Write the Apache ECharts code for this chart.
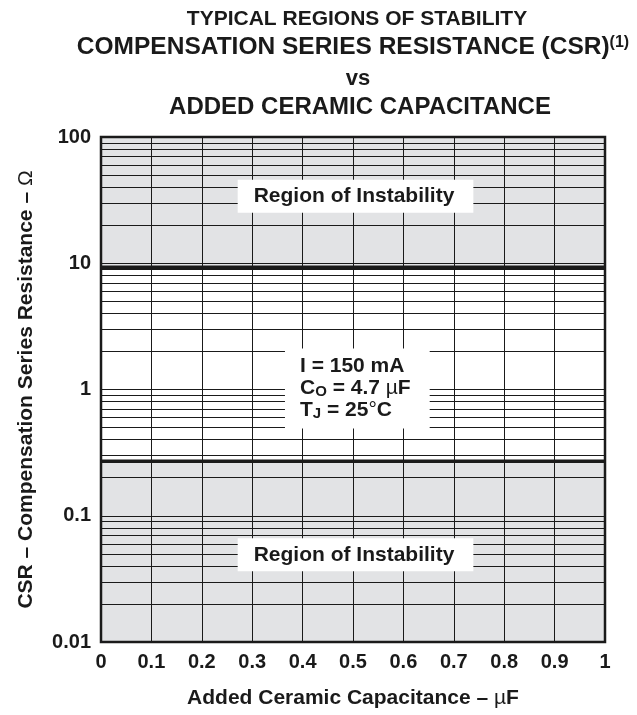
<!DOCTYPE html>
<html>
<head>
<meta charset="utf-8">
<title>CSR vs Added Ceramic Capacitance</title>
<script src="https://cdn.jsdelivr.net/npm/echarts@6/dist/echarts.min.js"></script>
<style>
  html, body { margin: 0; padding: 0; background: #fff; }
  #chart { width: 637px; height: 715px; }
</style>
</head>
<body>
<div id="chart"></div>
<script>
// values
var capRange = [0, 1];          // added ceramic capacitance, uF
var csrRange = [0.01, 100];     // CSR, ohm
var upperLimit = [9.3];         // above this: unstable
var lowerLimit = [0.27];        // below this: unstable
// log minor grid (2..9 in each decade)
var minorGrid = [0.02, 0.03, 0.04, 0.05, 0.06, 0.07, 0.08, 0.09,
                 0.2, 0.3, 0.4, 0.5, 0.6, 0.7, 0.8, 0.9,
                 2, 3, 4, 5, 6, 7, 8, 9,
                 20, 30, 40, 50, 60, 70, 80, 90];
var regionNames = ['Region of Instability', 'Region of Instability'];
var condSymbols = ['I', 'C', 'T'];
var condSubs = ['', 'O', 'J'];
var condValues = ['150 mA', '4.7 {g|\u00b5}F', '25{g|\u00b0}C'];

var FONT = "'Liberation Sans', Arial, Helvetica, sans-serif";
var INK = '#1a1a1a';
var GRAY = '#e2e3e5';

var chart = echarts.init(document.getElementById('chart'));

// rich text for the test conditions box
var condText = condSymbols.map(function (s, i) {
  var sub = condSubs[i] ? '{s|' + condSubs[i] + '}' : '';
  var val = condValues[i].replace(/\{g\|/, '}{g|').replace(/\}(?!$)([^{]*)$/, '}{t|$1');
  return '{t|' + s + '}' + sub + '{t| = ' + val + '}';
}).join('\n');

function limitLine(name, v) {
  return {
    name: name,
    type: 'line',
    z: 4,
    symbol: 'none',
    silent: true,
    lineStyle: { color: INK, width: 3.5 },
    data: [[capRange[0], v], [capRange[1], v]]
  };
}

var boxLabel = {
  show: true,
  position: 'inside',
  color: INK,
  opacity: 1,
  fontFamily: FONT,
  fontWeight: 'bold',
  fontSize: 21,
  backgroundColor: '#fff',
  padding: [6, 19, 6, 16]
};

var nameStyle = {
  fontFamily: FONT, fontWeight: 'bold', fontSize: 21, color: INK,
  rich: {
    b: { fontFamily: FONT, fontWeight: 'bold', fontSize: 21, color: INK },
    g: { fontFamily: FONT, fontWeight: 'normal', fontSize: 21, color: INK }
  }
};

var option = {
  animation: false,
  title: [
    {
      text: 'TYPICAL REGIONS OF STABILITY',
      left: 352, top: 4, textAlign: 'center',
      textStyle: { fontFamily: FONT, fontWeight: 'bold', fontSize: 21, color: INK }
    },
    {
      text: '{m|COMPENSATION SERIES RESISTANCE (CSR)}{p|(1)}',
      left: 348, top: 30, textAlign: 'center',
      textStyle: {
        rich: {
          m: { fontFamily: FONT, fontWeight: 'bold', fontSize: 24.5, color: INK },
          p: { fontFamily: FONT, fontWeight: 'bold', fontSize: 16, color: INK, verticalAlign: 'top', lineHeight: 24 }
        }
      }
    },
    {
      text: 'vs',
      left: 353, top: 63, textAlign: 'center',
      textStyle: { fontFamily: FONT, fontWeight: 'bold', fontSize: 22, color: INK }
    },
    {
      text: 'ADDED CERAMIC CAPACITANCE',
      left: 355, top: 90, textAlign: 'center',
      textStyle: { fontFamily: FONT, fontWeight: 'bold', fontSize: 24, color: INK }
    }
  ],
  grid: {
    left: 101, right: 32, top: 137, bottom: 73,
    show: true, z: 4,
    borderColor: INK, borderWidth: 2.5,
    backgroundColor: 'transparent'
  },
  xAxis: {
    type: 'value',
    min: capRange[0], max: capRange[1], interval: 0.1,
    z: 2,
    axisLine: { show: false },
    axisTick: { show: false },
    splitLine: { show: true, lineStyle: { color: INK, width: 1 } },
    axisLabel: { fontFamily: FONT, fontWeight: 'bold', fontSize: 20, color: INK, margin: 10 },
    name: '{b|Added Ceramic Capacitance \u2013 }{g|\u00b5}{b|F}',
    nameLocation: 'middle',
    nameGap: 46,
    nameTextStyle: nameStyle
  },
  yAxis: {
    type: 'log', logBase: 10,
    min: csrRange[0], max: csrRange[1],
    z: 2,
    axisLine: { show: false },
    axisTick: { show: false },
    splitLine: { show: true, lineStyle: { color: INK, width: 1 } },
    axisLabel: { fontFamily: FONT, fontWeight: 'bold', fontSize: 20, color: INK, margin: 10 },
    name: '{b|CSR \u2013 Compensation Series Resistance \u2013 }{g|\u03a9}',
    nameLocation: 'middle',
    nameRotate: 90,
    nameGap: 64,
    nameTextStyle: nameStyle
  },
  series: [
    {
      name: 'regions',
      type: 'line',
      data: [],
      silent: true,
      markArea: {
        z: 1,
        silent: true,
        itemStyle: { color: GRAY },
        data: [
          [{ yAxis: csrRange[0] }, { yAxis: lowerLimit[0] }],
          [{ yAxis: upperLimit[0] }, { yAxis: csrRange[1] }]
        ]
      },
      markLine: {
        z: 3,
        silent: true,
        symbol: 'none',
        label: { show: false },
        lineStyle: { color: INK, width: 1, type: 'solid' },
        data: minorGrid.map(function (v) { return { yAxis: v }; })
      }
    },
    limitLine('upper limit', upperLimit[0]),
    limitLine('lower limit', lowerLimit[0]),
    {
      name: 'notes',
      type: 'scatter',
      z: 10,
      silent: true,
      symbolSize: 1,
      itemStyle: { color: 'rgba(0,0,0,0)', opacity: 1 },
      data: [
        { value: [0.505, 34], label: Object.assign({}, boxLabel, { formatter: regionNames[0] }) },
        { value: [0.505, 0.049], label: Object.assign({}, boxLabel, { formatter: regionNames[1] }) },
        {
          value: [0.365, 1.02],
          label: {
            show: true,
            position: 'inside',
            align: 'left',
            verticalAlign: 'middle',
            opacity: 1,
            formatter: condText,
            backgroundColor: '#fff',
            padding: [7, 19, 7, 15],
            rich: {
              t: { fontFamily: FONT, fontWeight: 'bold', fontSize: 21, color: INK, lineHeight: 22 },
              g: { fontFamily: FONT, fontWeight: 'normal', fontSize: 21, color: INK, lineHeight: 22 },
              s: { fontFamily: FONT, fontWeight: 'bold', fontSize: 15, color: INK, lineHeight: 22, verticalAlign: 'bottom' }
            }
          }
        }
      ]
    }
  ]
};

chart.setOption(option);
</script>
</body>
</html>
